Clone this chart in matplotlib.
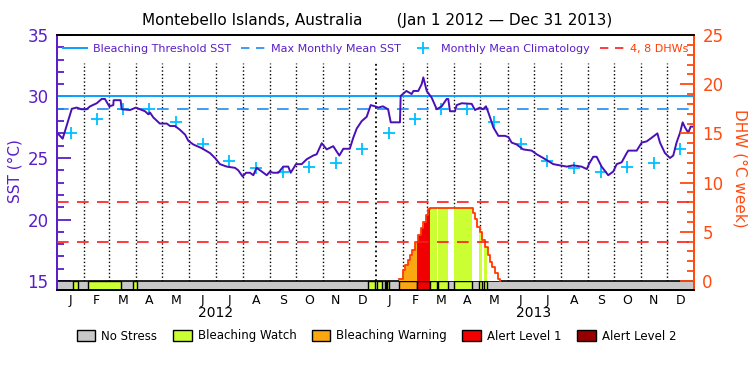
import numpy as np
import matplotlib.pyplot as plt
from matplotlib.patches import Patch
from matplotlib.lines import Line2D

# daily SST (days since 2012-01-01)
sst_day = [0, 6.5, 11, 17, 22.6, 28, 34, 38, 45.6, 51.3, 55, 60, 64.6, 65, 73, 74.2, 83.8, 90.7,
           95.3, 101, 104.8, 106.7, 110.5, 118, 126, 129.7, 135.4, 141, 147, 150.7, 156.4, 166,
           175.6, 181.3, 187, 194.8, 204.3, 208, 213, 217, 221.5, 225.3, 229, 235, 240.7, 244.4,
           248, 254, 259.7, 265.4, 268.2, 274.3, 280.8, 286.6, 294, 298, 303.8, 309.5, 317, 324,
           328.6, 336, 340, 344, 349.7, 355.4, 360, 365, 368.7, 374, 380, 383, 393.6, 394.4, 401,
           407, 409, 414.6, 418.5, 420.4, 424.3, 430, 435.8, 441.5, 447.2, 449, 451, 456.7, 458.7,
           464.4, 475.9, 479.7, 485.4, 488.9, 492.3, 495, 498.9, 500.7, 506.5, 514, 518, 521.8,
           527.5, 535, 544.8, 550.5, 558, 563.8, 569.6, 577, 585, 592.5, 602, 608, 610.8, 615.4,
           619.3, 625, 632.6, 638.4, 642.3, 648, 653.8, 655.6, 665.3, 671, 676.7, 682.5, 689, 692,
           697.7, 703.5, 707.2, 711, 715, 718, 720.6, 724.4, 727.2, 731]
sst_val = [27.06, 26.57, 27.6, 29.0, 29.1, 28.96, 28.96, 29.2, 29.45, 29.8, 29.8, 29.2, 29.3, 29.7,
           29.7, 28.96, 28.9, 29.1, 28.96, 28.8, 28.55, 28.7, 28.3, 27.8, 27.8, 27.6, 27.6, 27.3,
           26.9, 26.4, 26.1, 25.8, 25.4, 25.0, 24.5, 24.3, 24.2, 24.0, 23.5, 23.8, 23.8, 23.6, 24.2,
           23.9, 23.6, 23.9, 23.8, 23.8, 24.3, 24.3, 23.8, 24.5, 24.5, 24.9, 25.2, 25.3, 26.2, 25.7,
           25.96, 25.2, 25.75, 25.75, 26.65, 27.4, 28.0, 28.35, 29.3, 29.2, 29.1, 29.2, 28.96, 27.9,
           27.9, 30.05, 30.45, 30.2, 30.45, 30.45, 31.0, 31.55, 30.45, 29.9, 28.96, 29.2, 29.8, 29.8,
           28.8, 28.8, 29.3, 29.45, 29.4, 28.9, 29.1, 28.96, 29.2, 28.7, 27.9, 27.5, 26.8, 26.8, 26.7,
           26.25, 26.1, 25.7, 25.6, 25.3, 25.0, 24.75, 24.5, 24.4, 24.3, 24.4, 24.3, 24.1, 24.55,
           25.1, 25.1, 24.3, 23.6, 23.9, 24.5, 24.65, 25.4, 25.6, 25.6, 26.25, 26.35, 26.65, 27.0,
           26.25, 25.4, 25.0, 25.2, 26.25, 27.05, 27.9, 27.5, 27.05, 27.55, 27.55]

# monthly mean climatology (same for each year)
clim_monthly = [27.0, 28.15, 28.95, 29.0, 27.95, 26.15, 24.75, 24.2, 23.9, 24.3, 24.6, 25.7]
mmm = 29.0
threshold = 30.0

# degree heating weeks (step start day, value); zero outside this period
dhw_day = [393, 396.7, 399.4, 402.5, 405.1, 407.7, 410.8, 413.9, 417.4, 420.3, 423.1, 425.4, 428,
           477.1, 479.7, 482.3, 485.4, 488, 491.1, 494.2, 496.8, 499.5, 502.6, 505.7, 508.4]
dhw_val = [0.17, 1.1, 1.6, 2.1, 2.65, 3.15, 4.0, 4.7, 5.35, 6.0, 6.7, 7.3, 7.4,
           6.9, 6.3, 5.5, 4.95, 4.15, 3.5, 2.65, 1.95, 1.45, 0.8, 0.17, 0]

# stress level periods (1 watch, 2 warning, 3 alert 1, 4 alert 2)
stress_start = [18, 36, 87, 357, 367, 376, 379, 393, 413, 428, 437, 455.6, 484, 490]
stress_end = [24, 74, 92, 365, 373.5, 378, 381, 413, 428, 436, 449, 476, 488, 493.5]
stress_level = [1, 1, 1, 1, 1, 1, 1, 2, 3, 1, 1, 1, 1, 1]

month_letters = ['J', 'F', 'M', 'A', 'M', 'J', 'J', 'A', 'S', 'O', 'N', 'D'] * 2
years = ['2012', '2013']

stress_names = ['No Stress', 'Bleaching Watch', 'Bleaching Warning', 'Alert Level 1', 'Alert Level 2']
stress_colors = ['#c8c8c8', '#ccff33', '#faa712', '#f00000', '#960000']

purple = '#5a1ec8'
sst_color = '#4a10b8'
dhw_color = '#ff3c00'
axis_orange = '#ff4a10'

# calendar positions
month_starts = np.arange('2012-01', '2014-02', dtype='datetime64[M]').astype('datetime64[D]')
month_days = (month_starts - np.datetime64('2012-01-01')).astype(int)
month_mid = (month_days[:-1] + month_days[1:]) / 2.0
year_mid = [month_days[6], month_days[18]]

fig = plt.figure(figsize=(7.5, 3.75), dpi=100)
ax = fig.add_axes([0.076, 0.2267, 0.8493, 0.68])
ax2 = ax.twinx()

ax.set_xlim(0, month_days[-1])
ax.set_ylim(14.27, 35)
ax2.set_ylim(-0.915, 25)

# month boundaries
for i, d in enumerate(month_days[1:-1]):
    lw = 1.3 if i == 11 else 1.0
    ax.plot([d, d], [15, 32.7], color='black', linestyle=':', linewidth=lw, zorder=1)

# stress bar
ax.broken_barh([(0, month_days[-1])], (14.27, 0.73), facecolors=stress_colors[0],
               edgecolor='black', linewidth=1.2, zorder=2)
for s, e, lev in zip(stress_start, stress_end, stress_level):
    ax.broken_barh([(s, e - s)], (14.27, 0.73), facecolors=stress_colors[lev],
                   edgecolor='black', linewidth=1.0, zorder=3)

# SST reference lines and climatology
ax.axhline(threshold, color='#0aa0ff', linewidth=1.4, zorder=4)
ax.axhline(mmm, color='#1e8cf0', linewidth=1.2, linestyle=(0, (7, 5)), zorder=4)
ax.plot(month_mid, clim_monthly * 2, linestyle='none', marker='+', markersize=8.5,
        markeredgewidth=1.3, color='#00c0ff', zorder=5)
ax.plot(sst_day, sst_val, color=sst_color, linewidth=1.4, zorder=6)

# DHW fill coloured by stress level, then the DHW line
days = np.arange(int(dhw_day[0]), int(np.ceil(dhw_day[-1])))
idx = np.searchsorted(dhw_day, days, side='right') - 1
dhw_daily = np.array(dhw_val)[np.clip(idx, 0, None)]
level_daily = np.zeros(len(days), dtype=int)
for s, e, lev in zip(stress_start, stress_end, stress_level):
    level_daily[(days >= s) & (days < e)] = lev
fill_colors = ['white' if lev == 0 else stress_colors[lev] for lev in level_daily]
ax2.bar(days, dhw_daily, width=1.0, align='edge', color=fill_colors, linewidth=0, zorder=2)
ax2.step(dhw_day, dhw_val, where='post', color=dhw_color, linewidth=1.3, zorder=3)
for v in [4, 8]:
    ax2.axhline(v, color='#ff1a1a', linewidth=1.2, linestyle=(0, (7, 5)), zorder=3)

# axes styling
ax.set_yticks([15, 20, 25, 30, 35])
ax.set_yticks(np.arange(15, 36, 1), minor=True)
ax.tick_params(axis='y', which='major', direction='in', length=10, width=1.3, colors=purple,
               labelsize=12, pad=6)
ax.tick_params(axis='y', which='minor', direction='in', length=5, width=1.3, colors=purple)
ax2.set_yticks([0, 5, 10, 15, 20, 25])
ax2.set_yticks(np.arange(0, 26, 1), minor=True)
ax2.tick_params(axis='y', which='major', direction='in', length=10, width=1.3, colors=axis_orange,
                labelsize=12, pad=6)
ax2.tick_params(axis='y', which='minor', direction='in', length=5, width=1.3, colors=axis_orange)

ax.set_xticks(month_mid)
ax.set_xticklabels(month_letters)
ax.tick_params(axis='x', length=0, labelsize=9, pad=3)

for a in (ax, ax2):
    a.spines['left'].set_color(purple)
    a.spines['right'].set_color(axis_orange)
    a.spines['top'].set_color('black')
    a.spines['bottom'].set_color('black')
    for sp in a.spines.values():
        sp.set_linewidth(1.3)

for d, y in zip(year_mid, years):
    ax.text(d, -0.09, y, transform=ax.get_xaxis_transform(), ha='center', va='center', fontsize=10)

fig.text(0.02, 1 - 171 / 375, 'SST (°C)', rotation=90, color=purple, fontsize=11,
         ha='center', va='center')
fig.text(0.987, 1 - 168 / 375, 'DHW (°C week)', rotation=270, color=axis_orange, fontsize=11,
         ha='center', va='center')
fig.text(0.503, 1 - 20 / 375, 'Montebello Islands, Australia       (Jan 1 2012 \u2014 Dec 31 2013)',
         ha='center', va='center', fontsize=11)

# top legend
handles = [Line2D([], [], color='#0aa0ff', linewidth=1.4),
           Line2D([], [], color='#1e8cf0', linewidth=1.2, linestyle=(0, (5, 4))),
           Line2D([], [], color='#00c0ff', marker='+', linestyle='none', markersize=8,
                  markeredgewidth=1.3),
           Line2D([], [], color='#ff1a1a', linewidth=1.2, linestyle=(0, (5, 4)))]
labels = ['Bleaching Threshold SST', 'Max Monthly Mean SST', 'Monthly Mean Climatology', '4, 8 DHWs']
leg = ax2.legend(handles, labels, loc='upper center', bbox_to_anchor=(0.5, 1.0), ncol=4,
                 frameon=False, fontsize=8, handlelength=2.2, handletextpad=0.5,
                 columnspacing=0.9, borderaxespad=0.4)
for t, c in zip(leg.get_texts(), [purple, purple, purple, dhw_color]):
    t.set_color(c)

# stress legend
patches = [Patch(facecolor=c, edgecolor='black', linewidth=1.0) for c in stress_colors]
fig.legend(patches, stress_names, loc='center', bbox_to_anchor=(0.502, 1 - 336 / 375), ncol=5,
           frameon=False, fontsize=8.5, handlelength=1.6, handleheight=1.1, handletextpad=0.5,
           columnspacing=1.3)

fig.savefig('out.png', dpi=100)
